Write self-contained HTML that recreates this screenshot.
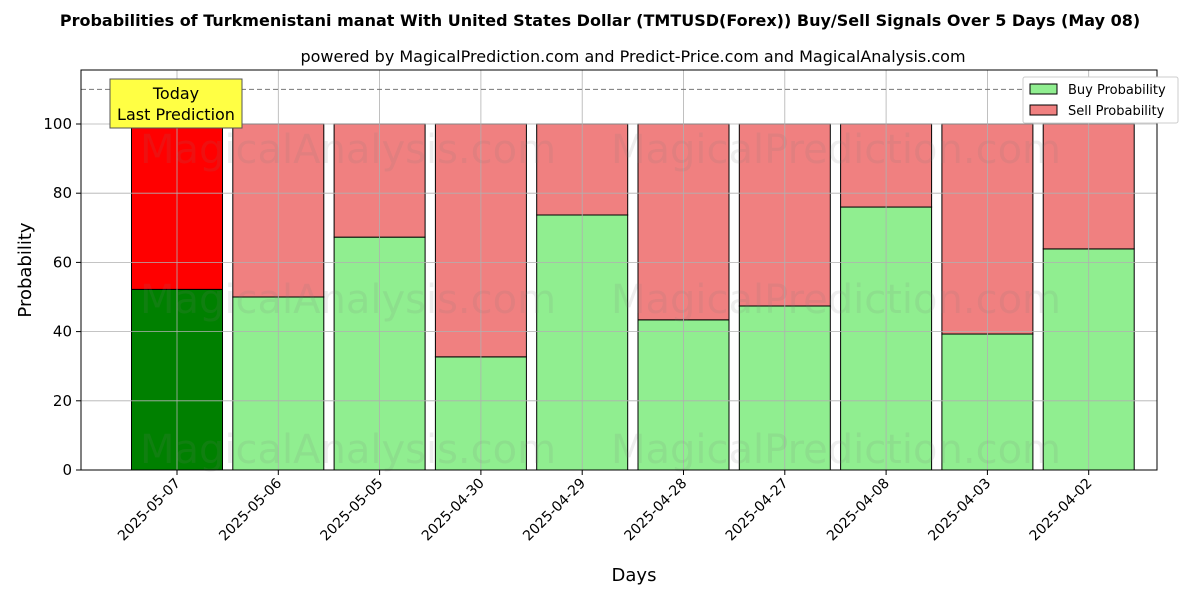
<!DOCTYPE html>
<html><head><meta charset="utf-8"><style>body{margin:0;background:#fff}svg text{font-family:"DejaVu Sans","Liberation Sans",sans-serif}</style></head>
<body>
<svg id="c" width="1200" height="600" xmlns="http://www.w3.org/2000/svg">
<text x="600" y="26" text-anchor="middle" font-size="16" font-weight="bold">Probabilities of Turkmenistani manat With United States Dollar (TMTUSD(Forex)) Buy/Sell Signals Over 5 Days (May 08)</text>
<text x="633" y="62" text-anchor="middle" font-size="16">powered by MagicalPrediction.com and Predict-Price.com and MagicalAnalysis.com</text>
<g id="bars"></g>
<g id="grid"></g>
<g id="wm" font-size="40" fill="rgba(120,120,120,0.13)">
<text x="348" y="163" text-anchor="middle">MagicalAnalysis.com</text><text x="836" y="163" text-anchor="middle">MagicalPrediction.com</text>
<text x="348" y="313" text-anchor="middle">MagicalAnalysis.com</text><text x="836" y="313" text-anchor="middle">MagicalPrediction.com</text>
<text x="348" y="463" text-anchor="middle">MagicalAnalysis.com</text><text x="836" y="463" text-anchor="middle">MagicalPrediction.com</text>
</g>
<line x1="81" x2="1157" y1="89.4" y2="89.4" stroke="#777" stroke-dasharray="5,3"/>
<rect x="81" y="70" width="1076" height="400" fill="none" stroke="#000"/>
<g id="axes"></g>
<text x="634" y="581" text-anchor="middle" font-size="18">Days</text>
<text transform="translate(31,270) rotate(-90)" text-anchor="middle" font-size="18">Probability</text>
<g><rect x="110" y="79" width="132" height="49" fill="#ffff44" stroke="#555"/>
<text x="176" y="99" text-anchor="middle" font-size="16">Today</text><text x="176" y="120" text-anchor="middle" font-size="16">Last Prediction</text></g>
<g><rect x="1023" y="77" width="155" height="46" fill="#fff" stroke="#ccc" rx="2"/>
<rect x="1030" y="84" width="27" height="10" fill="#90ee90" stroke="#000"/><text x="1068" y="94" font-size="13">Buy Probability</text>
<rect x="1030" y="105" width="27" height="10" fill="#f08080" stroke="#000"/><text x="1068" y="115" font-size="13">Sell Probability</text></g>
</svg>
<script>
const categories=["2025-05-07","2025-05-06","2025-05-05","2025-04-30","2025-04-29","2025-04-28","2025-04-27","2025-04-08","2025-04-03","2025-04-02"];
const buyValues=[52.2,50.0,67.3,32.7,73.7,43.4,47.4,76.0,39.3,63.9];
const yTicks=[0,20,40,60,80,100];
const NS="http://www.w3.org/2000/svg";
const x=i=>177+i*101.3, y=v=>470-v*3.46, bw=91;
function mk(t,a,p){const e=document.createElementNS(NS,t);for(const k in a)e.setAttribute(k,a[k]);p.appendChild(e);return e;}
const bars=document.getElementById('bars'),grid=document.getElementById('grid'),axes=document.getElementById('axes');
categories.forEach((c,i)=>{
 const b=buyValues[i],s=100-b,today=i===0;
 const r1=mk('rect',{x:x(i)-bw/2,y:y(b),width:bw,height:y(0)-y(b),fill:today?'#008000':'#90ee90',stroke:'#000','stroke-width':1},bars);
 
 
 const r2=mk('rect',{x:x(i)-bw/2,y:y(100),width:bw,height:y(b)-y(100),fill:today?'#ff0000':'#f08080',stroke:'#000','stroke-width':1},bars);
 
 
 const g=mk('line',{x1:x(i),x2:x(i),y1:70,y2:470,stroke:'#b0b0b0','stroke-width':0.8},grid);
 
 
 const tk=mk('line',{x1:x(i),x2:x(i),y1:470,y2:475,stroke:'#000'},axes);
 
 
 const t=mk('text',{transform:`translate(${x(i)+4},${484}) rotate(-45)`,'text-anchor':'end','font-size':14},axes);
 t.textContent=c;
 
 
});
yTicks.forEach(v=>{
 const g=mk('line',{x1:81,x2:1157,y1:y(v),y2:y(v),stroke:'#b0b0b0','stroke-width':0.8},grid);
 
 
 const tk=mk('line',{x1:76,x2:81,y1:y(v),y2:y(v),stroke:'#000'},axes);
 
 
 const t=mk('text',{x:72,y:y(v)+5,'text-anchor':'end','font-size':15},axes);
 t.textContent=v;
 
 
});
</script>
</body></html>
